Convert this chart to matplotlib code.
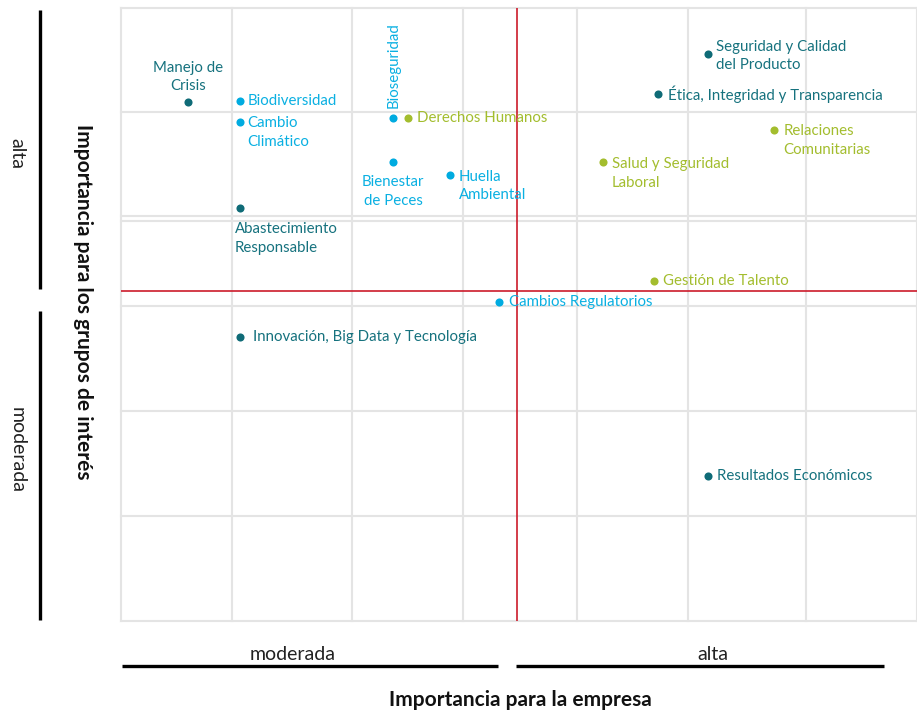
import matplotlib
matplotlib.use("Agg")
import matplotlib.pyplot as plt
from matplotlib.lines import Line2D

plt.rcParams['font.family'] = ['Lato', 'DejaVu Sans']

# ---------------- data ----------------
topics = [
    "Manejo de\nCrisis", "Biodiversidad", "Cambio\nClimático", "Abastecimiento\nResponsable",
    "Bioseguridad", "Derechos Humanos", "Bienestar\nde Peces", "Huella\nAmbiental",
    "Cambios Regulatorios", "Seguridad y Calidad\ndel Producto",
    "Ética, Integridad y Transparencia", "Relaciones\nComunitarias",
    "Salud y Seguridad\nLaboral", "Gestión de Talento",
    "Innovación, Big Data y Tecnología", "Resultados Económicos",
]
importance_company = [8.4, 14.9, 14.9, 14.9, 34.2, 36.0, 34.2, 41.3,
                      47.5, 73.7, 67.5, 82.0, 60.5, 66.9, 14.9, 73.7]
importance_stakeholders = [84.6, 84.9, 81.4, 67.3, 82.0, 82.0, 74.8, 72.8,
                           52.0, 92.5, 86.0, 80.1, 74.8, 55.5, 46.4, 23.7]
group = ["teal", "cyan", "cyan", "teal", "cyan", "green", "cyan", "cyan",
         "cyan", "teal", "teal", "green", "green", "green", "teal", "teal"]

x_grid = [0, 13.94, 29.02, 42.96, 57.29, 71.23, 86.06, 100]
y_grid = [0, 17.13, 34.26, 51.39, 65.25, 66.07, 83.03, 100]
x_threshold = 49.75
y_threshold = 53.83

level_labels = ["moderada", "alta"]
x_title = "Importancia para la empresa"
y_title = "Importancia para los grupos de interés"

# ---------------- styles ----------------
dot_colors = {"teal": "#0f6b77", "cyan": "#00abe0", "green": "#a3bd2e"}
text_colors = {"teal": "#16727e", "cyan": "#0ab0e2", "green": "#a3bd2e"}
# label placement (offset in pixels, ha, va, rotation)
placement = {
    0: (0, 9, "center", "bottom", 0),
    1: (8, 0, "left", "center", 0),
    2: (8, 6, "left", "top", 0),
    3: (-5, -14, "left", "top", 0),
    4: (0, 10, "center", "bottom", 90),
    5: (9, 0, "left", "center", 0),
    6: (0, -13, "center", "top", 0),
    7: (9, 5, "left", "top", 0),
    8: (10, 0, "left", "center", 0),
    9: (8, -2, "left", "center", 0),
    10: (10, 0, "left", "center", 0),
    11: (10, 6, "left", "top", 0),
    12: (9, 5, "left", "top", 0),
    13: (9, 0, "left", "center", 0),
    14: (13, 0, "left", "center", 0),
    15: (9, 0, "left", "center", 0),
}

W, H = 917, 713
fig = plt.figure(figsize=(W / 100, H / 100), dpi=100)
L, R, T, B = 121, 917, 8, 621
ax = fig.add_axes([L / W, (H - B) / H, (R - L) / W, (B - T) / H])
ax.set_xlim(0, 100)
ax.set_ylim(0, 100)
ax.axis("off")

grid_kw = dict(color="#e4e4e4", lw=1.5, zorder=0, clip_on=False)
for gx in x_grid:
    ax.axvline(gx, **grid_kw)
for gy in y_grid:
    ax.axhline(gy, **grid_kw)

ax.axvline(x_threshold, color="#cc1b2b", lw=1.2, zorder=1)
ax.axhline(y_threshold, color="#cc1b2b", lw=1.2, zorder=1)

for i, name in enumerate(topics):
    g = group[i]
    xv, yv = importance_company[i], importance_stakeholders[i]
    ax.scatter([xv], [yv], s=34, color=dot_colors[g], zorder=3, linewidths=0)
    dx, dy, ha, va, rot = placement[i]
    ax.annotate(name, (xv, yv), xytext=(dx, dy), textcoords="offset pixels",
                ha=ha, va=va, rotation=rot, fontsize=10.8, color=text_colors[g],
                linespacing=1.42, ma=ha if ha != "center" else "center", zorder=4)

# ---------------- outer decorations ----------------
def px(x, y):
    return x / W, 1 - y / H

def fig_line(x0, y0, x1, y1, lw=2.4):
    (a, b), (c, d) = px(x0, y0), px(x1, y1)
    fig.add_artist(Line2D([a, c], [b, d], color="black", lw=lw, solid_capstyle="butt"))

# bottom
fig_line(122, 666, 498, 666)
fig_line(516, 666, 884, 666)
fig.text(*px(293, 655), level_labels[0], ha="center", va="center", fontsize=14, color="#222222")
fig.text(*px(713, 655), level_labels[1], ha="center", va="center", fontsize=14, color="#222222")
fig.text(*px(520, 700), x_title, ha="center", va="center", fontsize=15,
         fontweight="bold", color="#111111")

# left
fig_line(39.5, 10, 39.5, 289)
fig_line(39.5, 311, 39.5, 620)
fig.text(*px(17, 153), level_labels[1], ha="center", va="center", rotation=270,
         fontsize=14, color="#222222")
fig.text(*px(17, 450), level_labels[0], ha="center", va="center", rotation=270,
         fontsize=14, color="#222222")
fig.text(*px(83, 302), y_title, ha="center", va="center", rotation=270, fontsize=15,
         fontweight="bold", color="#111111")

fig.savefig("out.png", dpi=100)
